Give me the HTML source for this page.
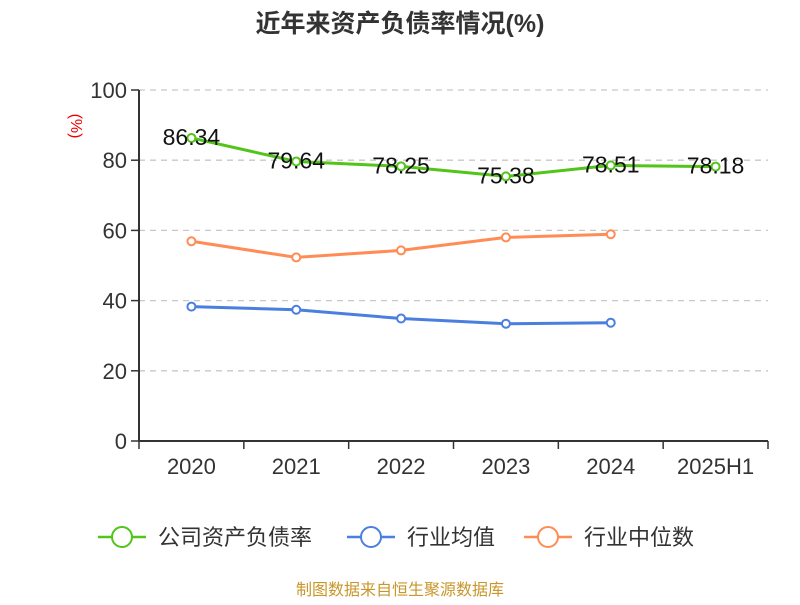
<!DOCTYPE html>
<html><head><meta charset="utf-8"><style>
body{margin:0;background:#fff}
svg text{font-family:"Liberation Sans","Noto Sans CJK SC",sans-serif}
</style></head><body>
<svg id="c" width="800" height="600">
<text x="400" y="32" text-anchor="middle" font-size="25" font-weight="bold" fill="#333">近年来资产负债率情况(%)</text>
<text transform="translate(71,126) rotate(90)" text-anchor="middle" font-size="16" fill="#e00">(%)</text>
<g id="grid"></g><g id="axes"></g><g id="series"></g>
<g>
<g><line x1="98" y1="537" x2="146" y2="537" stroke="#52c41a" stroke-width="2.5"/><circle cx="122" cy="537" r="10" fill="#fff" stroke="#52c41a" stroke-width="2"/><text x="158" y="545" font-size="22" fill="#333">公司资产负债率</text></g>
<g><line x1="347" y1="537" x2="395" y2="537" stroke="#4a7fe0" stroke-width="2.5"/><circle cx="371" cy="537" r="10" fill="#fff" stroke="#4a7fe0" stroke-width="2"/><text x="407" y="545" font-size="22" fill="#333">行业均值</text></g>
<g><line x1="524" y1="537" x2="572" y2="537" stroke="#ff8c55" stroke-width="2.5"/><circle cx="548" cy="537" r="10" fill="#fff" stroke="#ff8c55" stroke-width="2"/><text x="584" y="545" font-size="22" fill="#333">行业中位数</text></g>
</g>
<text x="400" y="595" text-anchor="middle" font-size="16" fill="#c8962a">制图数据来自恒生聚源数据库</text>
</svg>
<script>
const categories=["2020","2021","2022","2023","2024","2025H1"];
const companyValues=[86.34,79.64,78.25,75.38,78.51,78.18];
const industryAvg=[38.3,37.4,34.9,33.4,33.7];
const industryMedian=[56.9,52.3,54.3,58.0,58.9];
const yTicks=[0,20,40,60,80,100];
const NS="http://www.w3.org/2000/svg";
const x0=139,x1=768,yb=441,yt=90;
const bw=(x1-x0)/categories.length;
const X=i=>x0+bw*(i+0.5);
const Y=v=>yb-(v/100)*(yb-yt);
function mk(p,t,a){const e=document.createElementNS(NS,t);for(const k in a)e.setAttribute(k,a[k]);p.appendChild(e);return e;}
const grid=document.getElementById('grid'),axes=document.getElementById('axes'),ser=document.getElementById('series');
yTicks.forEach(v=>{
 if(v>0){const l=mk(grid,'line',{x1:x0,x2:x1,y1:Y(v),y2:Y(v),stroke:'#c8c8c8','stroke-dasharray':'6,5','stroke-width':1.3});
 }
 const tk=mk(axes,'line',{x1:x0-8,x2:x0,y1:Y(v),y2:Y(v),stroke:'#333','stroke-width':1.5});
 
 const t=mk(axes,'text',{x:x0-12,y:Y(v)+8,'text-anchor':'end','font-size':22,fill:'#333'});t.textContent=v;
 
});
const ya=mk(axes,'line',{x1:x0,x2:x0,y1:yt,y2:yb,stroke:'#333','stroke-width':2});

const xa=mk(axes,'line',{x1:x0,x2:x1,y1:yb,y2:yb,stroke:'#333','stroke-width':2});

categories.forEach((c,i)=>{
 const tk=mk(axes,'line',{x1:x0+bw*i,x2:x0+bw*i,y1:yb,y2:yb+8,stroke:'#333','stroke-width':1.5});
 
 const t=mk(axes,'text',{x:X(i),y:474,'text-anchor':'middle','font-size':22,fill:'#333'});t.textContent=c;
 
});
const tkEnd=mk(axes,'line',{x1:x1,x2:x1,y1:yb,y2:yb+8,stroke:'#333','stroke-width':1.5});

function draw(vals,col,name,labels){
 const pl=mk(ser,'polyline',{points:vals.map((v,i)=>X(i)+','+Y(v)).join(' '),fill:'none',stroke:col,'stroke-width':3});
 
 vals.forEach((v,i)=>{
  const c=mk(ser,'circle',{cx:X(i),cy:Y(v),r:4,fill:'#fff',stroke:col,'stroke-width':2});
  
  if(labels){const t=mk(ser,'text',{x:X(i),y:Y(v)+7,'text-anchor':'middle','font-size':23,fill:'#111'});t.textContent=v.toFixed(2);
  }
 });
}
draw(industryMedian,'#ff8c55','industry-median',false);
draw(industryAvg,'#4a7fe0','industry-avg',false);
draw(companyValues,'#52c41a','company',true);
</script>
</body></html>
